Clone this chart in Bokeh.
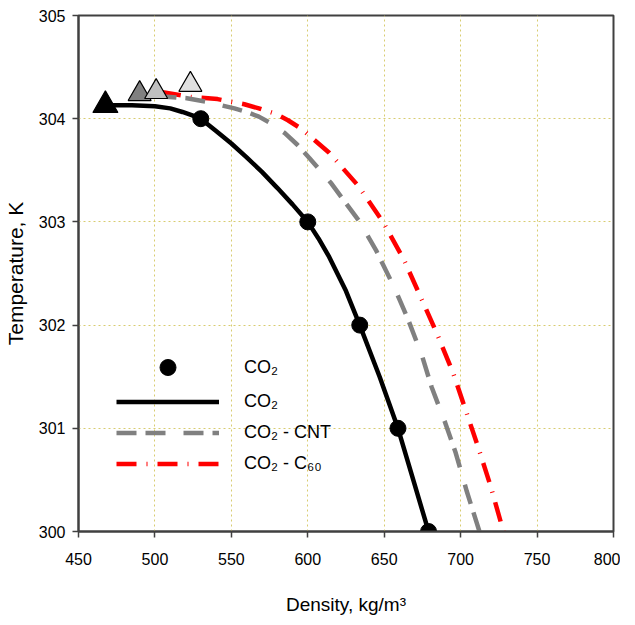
from bokeh.plotting import figure
from bokeh.models import Legend, LegendItem, Range1d, SingleIntervalTicker
from bokeh.embed import file_html
from bokeh.resources import INLINE

# ---- data ----
x_ticks_step = 50
y_ticks_step = 1

# experimental CO2 points
co2_exp_density = [530, 600, 634, 659, 679]
co2_exp_temp = [304.0, 303.0, 302.0, 301.0, 300.0]

# CO2 curve
co2_density = [467.6, 485, 500, 510, 518, 524, 530, 540, 550, 560, 570, 580,
               590, 600, 607, 614, 625, 634, 647, 659, 669, 679]
co2_temp = [304.13, 304.13, 304.12, 304.10, 304.065, 304.035, 304.0, 303.88,
            303.76, 303.625, 303.485, 303.33, 303.17, 303.0, 302.84, 302.66,
            302.33, 302.0, 301.5, 301.0, 300.5, 300.0]

# CO2 - CNT curve
cnt_density = [501, 520, 535, 552, 560, 568, 576, 585, 593, 601, 615, 633.5,
               644.5, 656.7, 665.5, 675, 681, 690, 696.8, 704, 712.3]
cnt_temp = [304.22, 304.2, 304.16, 304.1, 304.065, 304.02, 303.955, 303.86,
            303.75, 303.62, 303.38, 303.01, 302.73, 302.36, 302.06, 301.69,
            301.4, 301.05, 300.76, 300.39, 300.0]

# CO2 - C60 curve
c60_density = [504, 523.6, 541, 558.5, 568, 578.5, 587, 596, 614, 633, 649.6,
               663, 676, 685, 695, 703.2, 711.6, 719.4, 728]
c60_temp = [304.26, 304.21, 304.19, 304.14, 304.10, 304.05, 303.985, 303.9,
            303.67, 303.35, 302.99, 302.63, 302.2, 301.9, 301.54, 301.18,
            300.81, 300.45, 300.0]

# critical points (triangles)
crit_density = [467.6, 490, 500.8, 523.2]
crit_temp = [304.13, 304.24, 304.26, 304.33]
crit_colors = ["#000000", "#808080", "#c0c0c0", "#e0e0e0"]
crit_sizes = [25, 23, 23, 23]

labels = ["CO\u2082", "CO\u2082", "CO\u2082 - CNT", "CO\u2082 - C\u2086\u2080"]

FONT = "Liberation Sans"

p = figure(width=620, height=618, output_backend="svg", toolbar_location=None,
           x_range=Range1d(450, 800), y_range=Range1d(300, 305),
           min_border_left=71, min_border_right=7, min_border_top=15,
           min_border_bottom=87)

p.outline_line_color = "#404040"
p.outline_line_width = 2

for ax in (p.xaxis[0], p.yaxis[0]):
    ax.axis_line_color = "#404040"
    ax.axis_line_width = 2
    ax.major_tick_line_color = "#404040"
    ax.major_tick_line_width = 1.5
    ax.major_tick_in = 0
    ax.major_tick_out = 6
    ax.minor_tick_line_color = None
    ax.major_label_text_font = FONT
    ax.major_label_text_font_size = "16px"
    ax.major_label_text_color = "#000000"
    ax.axis_label_text_font_style = "normal"
    ax.axis_label_text_color = "#000000"

p.xaxis[0].ticker = SingleIntervalTicker(interval=x_ticks_step)
p.yaxis[0].ticker = SingleIntervalTicker(interval=y_ticks_step)
p.xaxis[0].major_label_standoff = 15
p.yaxis[0].major_label_standoff = 7

p.xaxis[0].axis_label = "Density, kg/m\u00b3"
p.xaxis[0].axis_label_text_font = FONT
p.xaxis[0].axis_label_text_font_size = "19px"
p.xaxis[0].axis_label_standoff = 26

p.yaxis[0].axis_label = "Temperature, K"
p.yaxis[0].axis_label_text_font = FONT
p.yaxis[0].axis_label_text_font_size = "21px"
p.yaxis[0].axis_label_standoff = 9

for g in (p.xgrid[0], p.ygrid[0]):
    g.grid_line_color = "#d8cc70"
    g.grid_line_dash = "2 3"
    g.grid_line_width = 1

r_c60 = p.line(c60_density, c60_temp, line_color="#ff0000", line_width=4.5,
               line_dash="20 10 1 10")
r_cnt = p.line(cnt_density, cnt_temp, line_color="#808080", line_width=4.5,
               line_dash="20 9 20 18")
r_co2 = p.line(co2_density, co2_temp, line_color="#000000", line_width=4.5)
r_exp = p.scatter(co2_exp_density, co2_exp_temp, marker="circle", size=16,
                  fill_color="#000000", line_color="#000000")
p.scatter(crit_density, crit_temp, marker="triangle", size=crit_sizes,
          fill_color=crit_colors, line_color="#000000", line_width=1.2)


def style_legend(lg, glyph_h):
    lg.border_line_color = None
    lg.background_fill_alpha = 0
    lg.padding = 0
    lg.margin = 0
    lg.spacing = 0
    lg.glyph_width = 103
    lg.glyph_height = glyph_h
    lg.label_standoff = 25
    lg.label_text_font = FONT
    lg.label_text_font_size = "18px"
    lg.label_text_color = "#000000"
    lg.label_height = 20


legend_pts = Legend(items=[LegendItem(label=labels[0], renderers=[r_exp])],
                    location=(38, 144))
style_legend(legend_pts, 40)

legend_lines = Legend(items=[
    LegendItem(label=labels[1], renderers=[r_co2]),
    LegendItem(label=labels[2], renderers=[r_cnt]),
    LegendItem(label=labels[3], renderers=[r_c60]),
], location=(38, 52))
style_legend(legend_lines, 31)

p.add_layout(legend_pts, "center")
p.add_layout(legend_lines, "center")

open("out.html", "w").write(file_html(p, INLINE))
